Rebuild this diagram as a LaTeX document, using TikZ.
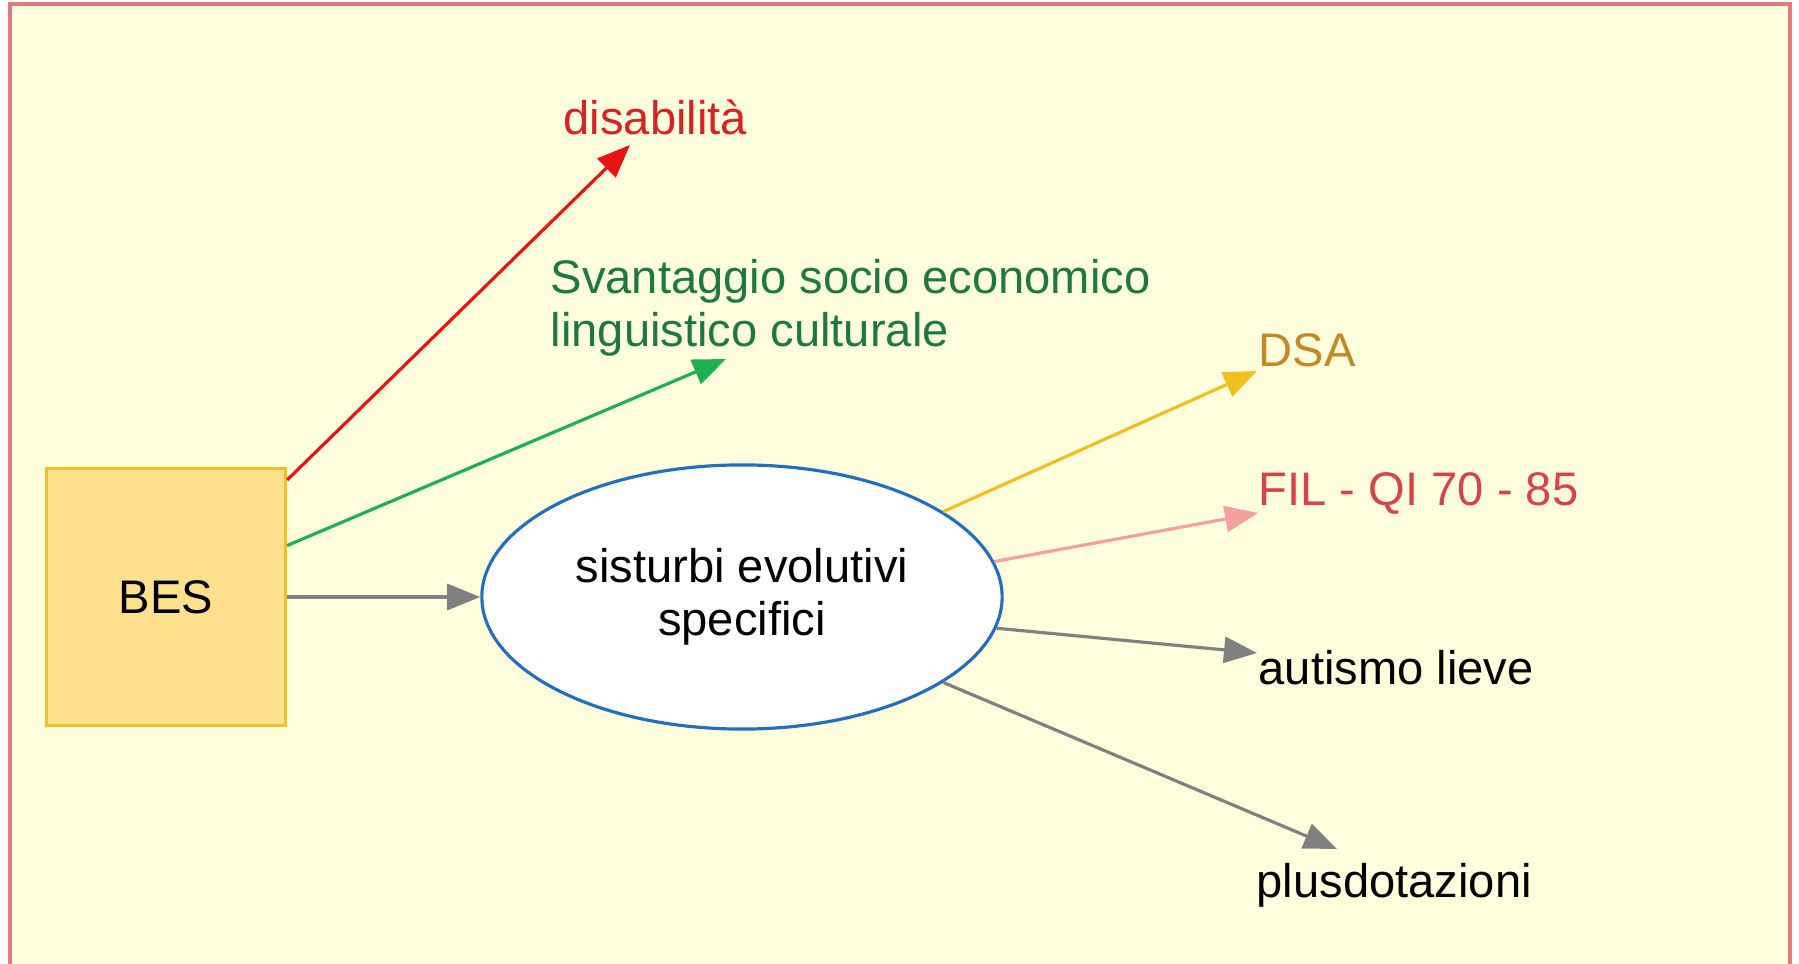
\documentclass[tikz,border=0pt]{standalone}
\usepackage{fontspec}
\setmainfont{Liberation Sans}
\usetikzlibrary{positioning, shapes.geometric, arrows.meta}

\definecolor{framered}{RGB}{226,122,128}
\definecolor{paper}{RGB}{255,255,221}
\definecolor{besfill}{RGB}{255,224,140}
\definecolor{besline}{RGB}{240,192,40}
\definecolor{ovalline}{RGB}{36,110,190}
\definecolor{redline}{RGB}{232,20,20}
\definecolor{redtext}{RGB}{214,36,36}
\definecolor{greenline}{RGB}{30,176,80}
\definecolor{greentext}{RGB}{30,120,64}
\definecolor{goldline}{RGB}{240,192,30}
\definecolor{goldtext}{RGB}{196,136,36}
\definecolor{pinkline}{RGB}{244,160,160}
\definecolor{pinktext}{RGB}{214,68,74}
\definecolor{greyline}{RGB}{128,128,128}

\tikzstyle{box} = [rectangle, draw = besline, fill = besfill, line width = 0.9pt, minimum width = 2.39cm, minimum height = 2.57cm, inner sep = 0pt]
\tikzstyle{oval} = [ellipse, draw = ovalline, fill = white, line width = 0.9pt, minimum width = 5.2cm, minimum height = 2.64cm, inner sep = 0pt, align = center]
\tikzstyle{leaf} = [anchor = base west, inner sep = 0pt, align = left]
\tikzstyle{link} = [draw, line width = 0.9pt, -{Triangle[length = 0.33cm, width = 0.26cm]}]

\begin{document}
\begin{tikzpicture}[x = 0.01cm, y = -0.01cm, font = \fontsize{13.4}{15.2}\selectfont]
        \useasboundingbox (0,0) rectangle (1799,964);
        \fill[white] (0,0) rectangle (1799,964);
        \path[fill = paper, draw = framered, line width = 1.1pt] (10,4) rectangle (1790,990);

        \node[box] (bes) at (166,597) {BES};
        \node[oval, right = 1.93cm of bes] (ses) {sisturbi evolutivi\\specifici};

        \node[leaf, text = redtext] (dis) at (563,135) {disabilità};
        \node[leaf, text = greentext] (sva) at (550,347) {Svantaggio socio economico\\linguistico culturale};
        \node[leaf, text = goldtext] (dsa) at (1258,367) {DSA};
        \node[leaf, text = pinktext] (fil) at (1258,506) {FIL - QI 70 - 85};
        \node[leaf] (aut) at (1258,685) {autismo lieve};
        \node[leaf] (plu) at (1256,898) {plusdotazioni};

        \coordinate (tdis) at (630,145);
        \coordinate (tsva) at (726,359);
        \coordinate (tdsa) at (1257,371);
        \coordinate (tfil) at (1258,513);
        \coordinate (taut) at (1257,653);
        \coordinate (tplu) at (1337,849);

        \path[link, draw = redline, fill = redline] (bes.44) -- (tdis);
        \path[link, draw = greenline, fill = greenline] (bes.23) -- (tsva);
        \path[link, draw = greyline, fill = greyline] (bes.east) -- (ses.west);

        \path[link, draw = goldline, fill = goldline] (ses.23) -- (tdsa);
        \path[link, draw = pinkline, fill = pinkline] (ses.8.5) -- (tfil);
        \path[link, draw = greyline, fill = greyline] (ses.-7) -- (taut);
        \path[link, draw = greyline, fill = greyline] (ses.-23.6) -- (tplu);
\end{tikzpicture}
\end{document}
